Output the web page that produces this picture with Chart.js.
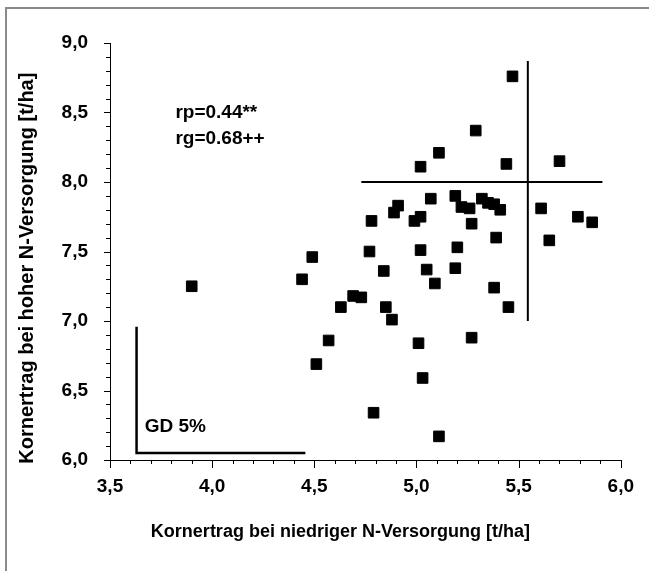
<!DOCTYPE html>
<html><head><meta charset="utf-8">
<script src="https://cdn.jsdelivr.net/npm/chart.js@4/dist/chart.umd.min.js"></script>
<style>html,body{margin:0;padding:0;background:#fff}#wrap{width:649px;height:571px;position:relative}canvas{display:block}</style>
</head><body><div id="wrap"><canvas id="c" width="649" height="571"></canvas></div>
<script>
// Kornertrag bei niedriger N-Versorgung (x) / hoher N-Versorgung (y) [t/ha]
const lowN  = [5.47,5.29,5.11,5.02,5.44,5.70,5.07,5.19,5.22,5.26,5.32,5.35,5.38,5.41,5.27,4.99,5.02,4.91,4.89,4.78,4.77,5.02,5.20,5.39,5.61,5.65,5.79,5.86,4.49,4.44,4.84,5.05,5.19,5.09,5.38,3.90,4.69,4.73,4.63,4.85,4.88,5.45,4.57,5.27,5.01,4.51,5.03,4.79,5.11];
const highN = [8.76,8.37,8.21,8.11,8.13,8.15,7.88,7.90,7.82,7.81,7.88,7.85,7.84,7.80,7.70,7.72,7.75,7.83,7.78,7.72,7.50,7.51,7.53,7.60,7.81,7.58,7.75,7.71,7.46,7.30,7.36,7.37,7.38,7.27,7.24,7.25,7.18,7.17,7.10,7.10,7.01,7.10,6.86,6.88,6.84,6.69,6.59,6.34,6.17];
// Mittelwert-Kreuz
const crossHX = [4.73, 5.91];
const crossHY = [8.0, 8.0];
const crossVX = [5.545, 5.545];
const crossVY = [7.0, 8.87];
// GD 5% Winkel
const gdX = [3.63, 3.63, 4.45];
const gdY = [6.95, 6.05, 6.05];
// Achsenbeschriftungen
const xTickLabels = ['3,5','4,0','4,5','5,0','5,5','6,0'];
const yTickLabels = ['6,0','6,5','7,0','7,5','8,0','8,5','9,0'];
const xTitle = 'Kornertrag bei niedriger N-Versorgung [t/ha]';
const yTitle = 'Kornertrag bei hoher N-Versorgung [t/ha]';
const notes = [
  {text: 'rp=0.44**', x: 3.82, y: 8.50},
  {text: 'rg=0.68++', x: 3.82, y: 8.31},
  {text: 'GD 5%', x: 3.67, y: 6.24}
];

const FONT = "'Liberation Sans', Arial, sans-serif";
const spaces = n => ' '.repeat(n);
const pts = lowN.map((v,i)=>({x:v, y:highN[i]}));
const zip = (a,b)=>a.map((v,i)=>({x:v,y:b[i]}));

function majorLabel(value, min, labels){
  const k = (value - min) / 0.5;
  const r = Math.round(k);
  return Math.abs(k - r) < 1e-6 ? labels[r] : '';
}

const deco = {
  id: 'deco',
  afterDraw(chart){
    const ctx = chart.ctx;
    const xs = chart.scales.x, ys = chart.scales.y;
    ctx.save();
    // frame
    ctx.strokeStyle = '#8a8a8a';
    ctx.lineWidth = 2;
    ctx.strokeRect(6, 8, 648, 568);
    // tick marks
    ctx.strokeStyle = '#000';
    ctx.lineWidth = 1;
    xs.ticks.forEach(t=>{
      const px = Math.round(xs.getPixelForValue(t.value)) + 0.5;
      const major = majorLabel(t.value, 3.5, xTickLabels) !== '';
      ctx.beginPath();
      ctx.moveTo(px, xs.top);
      ctx.lineTo(px, xs.top + (major ? 8 : 4));
      ctx.stroke();
    });
    ys.ticks.forEach(t=>{
      const py = Math.round(ys.getPixelForValue(t.value)) + 0.5;
      const major = majorLabel(t.value, 6.0, yTickLabels) !== '';
      ctx.beginPath();
      ctx.moveTo(ys.right, py);
      ctx.lineTo(ys.right - (major ? 6 : 4), py);
      ctx.stroke();
    });
    // notes
    ctx.fillStyle = '#000';
    ctx.font = "bold 19px " + FONT;
    ctx.textAlign = 'left';
    ctx.textBaseline = 'middle';
    notes.forEach(n=>{
      ctx.fillText(n.text, xs.getPixelForValue(n.x), ys.getPixelForValue(n.y));
    });
    ctx.restore();
  }
};

new Chart(document.getElementById('c'), {
  type: 'scatter',
  data: {
    datasets: [
      {data: pts, pointStyle: 'rect', pointRadius: 7.5, pointHoverRadius: 7.5,
       backgroundColor: '#000', borderColor: '#000', borderWidth: 1},
      {data: zip(crossHX, crossHY), showLine: true, pointRadius: 0, borderColor: '#000', borderWidth: 2},
      {data: zip(crossVX, crossVY), showLine: true, pointRadius: 0, borderColor: '#000', borderWidth: 2},
      {data: zip(gdX, gdY), showLine: true, pointRadius: 0, borderColor: '#000', borderWidth: 2.5, borderCapStyle: 'square', borderJoinStyle: 'miter'}
    ]
  },
  options: {
    responsive: false,
    animation: false,
    devicePixelRatio: 1,
    layout: {padding: {top: 43, right: 21, left: 0, bottom: 0}},
    plugins: {legend: {display: false}, tooltip: {enabled: false}},
    scales: {
      x: {
        type: 'linear', min: 3.5, max: 6.0,
        grid: {display: true, drawOnChartArea: false, drawTicks: false},
        border: {display: true, color: '#000', width: 1},
        ticks: {stepSize: 0.1, autoSkip: false, maxRotation: 0, minRotation: 0, padding: 15,
          color: '#000', font: {family: FONT, size: 19, weight: 'bold'},
          callback: v => majorLabel(v, 3.5, xTickLabels)},
        title: {display: true, text: xTitle + spaces(10), color: '#000', font: {family: FONT, size: 18, weight: 'bold'}, padding: {top: 0, bottom: 28}},
        afterFit: s => { s.height = 111; }
      },
      y: {
        type: 'linear', min: 6.0, max: 9.0,
        grid: {display: true, drawOnChartArea: false, drawTicks: false},
        border: {display: true, color: '#000', width: 1},
        ticks: {stepSize: 0.1, autoSkip: false, padding: 22,
          color: '#000', font: {family: FONT, size: 19, weight: 'bold'},
          callback: v => majorLabel(v, 6.0, yTickLabels)},
        title: {display: true, text: yTitle + spaces(6), color: '#000', font: {family: FONT, size: 20, weight: 'bold'}, padding: {top: 15, bottom: 0}},
        afterFit: s => { s.width = 110; }
      }
    }
  },
  plugins: [deco]
});
</script>
</body></html>
